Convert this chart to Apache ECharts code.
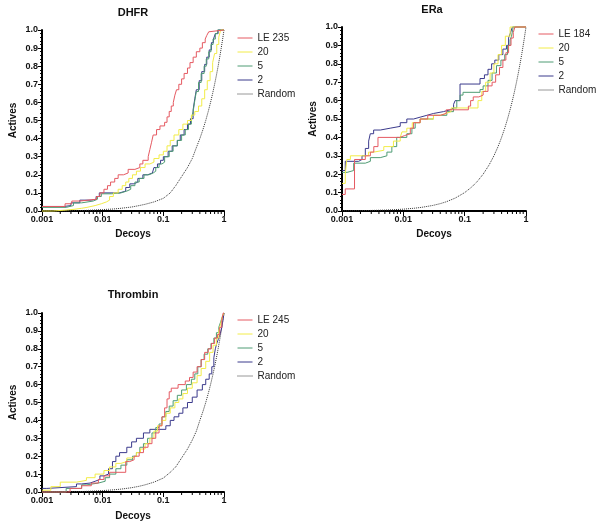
<!DOCTYPE html>
<html>
<head>
<meta charset="utf-8">
<script src="https://cdn.jsdelivr.net/npm/echarts@6/dist/echarts.min.js"></script>
<style>html,body{margin:0;padding:0;background:#fff}#c{width:600px;height:525px}</style>
</head>
<body>
<div id="c"></div>
<script>
// ---------- data ----------
const panelTitles = ['DHFR', 'ERa', 'Thrombin'];
const seriesNames = [['LE 235','20','5','2','Random'], ['LE 184','20','5','2','Random'], ['LE 245','20','5','2','Random']];
const xTickValues = [0.001, 0.01, 0.1, 1];
const xTickLabels = ['0.001', '0.01', '0.1', '1'];
const xMinorTicks = [0.002,0.003,0.004,0.005,0.006,0.007,0.008,0.009,0.02,0.03,0.04,0.05,0.06,0.07,0.08,0.09,0.2,0.3,0.4,0.5,0.6,0.7,0.8,0.9];

const dhfrLE = [[0.001,0.025],[0.0024,0.04],[0.0031,0.055],[0.0042,0.065],[0.0079,0.08],[0.009,0.1],[0.0105,0.12],[0.012,0.14],[0.0135,0.16],[0.0158,0.18],[0.018,0.2],[0.022,0.21],[0.0263,0.23],[0.034,0.24],[0.041,0.26],[0.046,0.28],[0.0563,0.3],[0.06,0.34],[0.064,0.38],[0.068,0.42],[0.0773,0.45],[0.088,0.47],[0.105,0.49],[0.115,0.52],[0.125,0.55],[0.135,0.58],[0.146,0.6],[0.155,0.64],[0.165,0.67],[0.18,0.7],[0.2,0.73],[0.22,0.76],[0.25,0.79],[0.275,0.82],[0.31,0.85],[0.35,0.88],[0.4,0.9],[0.44,0.93],[0.49,0.95],[0.52,0.97],[0.56,0.99],[0.59,1.0],[1,1.0]];
const dhfr20 = [[0.001,0.0],[0.0015,0.005],[0.0025,0.01],[0.0035,0.015],[0.0045,0.02],[0.0055,0.03],[0.0075,0.04],[0.0095,0.05],[0.0115,0.06],[0.013,0.08],[0.015,0.1],[0.018,0.12],[0.021,0.14],[0.024,0.16],[0.027,0.18],[0.031,0.2],[0.036,0.22],[0.042,0.24],[0.05,0.26],[0.06,0.27],[0.07,0.29],[0.085,0.31],[0.1,0.33],[0.115,0.36],[0.13,0.39],[0.15,0.42],[0.18,0.45],[0.21,0.48],[0.25,0.5],[0.29,0.53],[0.33,0.55],[0.38,0.58],[0.43,0.62],[0.48,0.67],[0.53,0.72],[0.59,0.77],[0.65,0.82],[0.7,0.87],[0.76,0.92],[0.82,0.96],[0.88,1.0],[1,1.0]];
const dhfr5 = [[0.001,0.02],[0.0025,0.03],[0.0033,0.045],[0.0045,0.055],[0.007,0.065],[0.0082,0.08],[0.0095,0.095],[0.014,0.1],[0.02,0.11],[0.025,0.12],[0.029,0.14],[0.034,0.16],[0.04,0.18],[0.048,0.2],[0.058,0.21],[0.068,0.22],[0.075,0.24],[0.085,0.26],[0.095,0.27],[0.105,0.3],[0.125,0.33],[0.145,0.36],[0.17,0.39],[0.2,0.42],[0.23,0.45],[0.26,0.48],[0.29,0.51],[0.31,0.55],[0.33,0.61],[0.35,0.66],[0.38,0.71],[0.42,0.76],[0.47,0.8],[0.51,0.84],[0.56,0.88],[0.61,0.92],[0.66,0.95],[0.72,0.98],[0.78,1.0],[1,1.0]];
const dhfr2 = [[0.001,0.025],[0.0023,0.03],[0.003,0.045],[0.0042,0.06],[0.0065,0.065],[0.0078,0.08],[0.0088,0.1],[0.019,0.11],[0.024,0.13],[0.028,0.15],[0.033,0.16],[0.038,0.18],[0.046,0.2],[0.055,0.21],[0.066,0.22],[0.07,0.24],[0.08,0.26],[0.09,0.28],[0.1,0.3],[0.12,0.33],[0.14,0.36],[0.17,0.39],[0.19,0.42],[0.22,0.45],[0.25,0.48],[0.28,0.51],[0.31,0.56],[0.33,0.62],[0.35,0.67],[0.39,0.72],[0.43,0.77],[0.48,0.81],[0.52,0.85],[0.57,0.89],[0.62,0.93],[0.67,0.95],[0.72,0.98],[0.8,1.0],[1,1.0]];
const dhfrRandom = [[0.001,0.0005],[0.002,0.001],[0.003,0.002],[0.005,0.003],[0.007,0.005],[0.01,0.008],[0.015,0.011],[0.02,0.015],[0.03,0.022],[0.04,0.03],[0.05,0.037],[0.07,0.05],[0.1,0.07],[0.13,0.1],[0.16,0.14],[0.2,0.19],[0.25,0.24],[0.3,0.29],[0.35,0.35],[0.4,0.4],[0.45,0.45],[0.5,0.5],[0.55,0.55],[0.6,0.6],[0.65,0.65],[0.7,0.7],[0.75,0.75],[0.8,0.8],[0.85,0.85],[0.9,0.9],[0.95,0.95],[1,1]];

const eraLE = [[0.001,0.09],[0.00113,0.12],[0.0016,0.28],[0.0024,0.3],[0.0029,0.32],[0.0033,0.35],[0.00386,0.4],[0.0088,0.41],[0.0105,0.42],[0.013,0.45],[0.0147,0.48],[0.0188,0.5],[0.025,0.52],[0.04,0.53],[0.05,0.55],[0.115,0.57],[0.125,0.6],[0.138,0.62],[0.17,0.63],[0.2,0.65],[0.24,0.68],[0.28,0.7],[0.32,0.74],[0.37,0.78],[0.42,0.82],[0.47,0.86],[0.52,0.9],[0.57,0.94],[0.62,0.97],[0.66,1.0],[1,1.0]];
const era20 = [[0.001,0.15],[0.00113,0.2],[0.0012,0.28],[0.00137,0.3],[0.0027,0.32],[0.0033,0.33],[0.0048,0.35],[0.0069,0.38],[0.0089,0.4],[0.0095,0.43],[0.0114,0.45],[0.014,0.48],[0.0188,0.5],[0.031,0.52],[0.04,0.53],[0.05,0.54],[0.06,0.56],[0.165,0.6],[0.19,0.65],[0.22,0.7],[0.26,0.75],[0.3,0.8],[0.35,0.85],[0.4,0.9],[0.46,0.95],[0.55,1.0],[1,1.0]];
const era5 = [[0.001,0.21],[0.00121,0.22],[0.00155,0.26],[0.0024,0.27],[0.0029,0.29],[0.0042,0.3],[0.0054,0.32],[0.0065,0.35],[0.0078,0.4],[0.0114,0.42],[0.0138,0.45],[0.0156,0.48],[0.0188,0.5],[0.031,0.52],[0.0512,0.54],[0.0657,0.56],[0.0744,0.6],[0.0843,0.63],[0.094,0.645],[0.178,0.66],[0.2,0.68],[0.24,0.71],[0.28,0.75],[0.33,0.79],[0.39,0.82],[0.45,0.85],[0.5,0.9],[0.55,0.93],[0.58,0.95],[0.62,1.0],[1,1.0]];
const era2 = [[0.001,0.22],[0.00113,0.27],[0.00187,0.28],[0.00212,0.3],[0.0024,0.34],[0.00272,0.38],[0.00289,0.42],[0.00328,0.44],[0.00421,0.45],[0.0061,0.46],[0.0089,0.48],[0.0114,0.5],[0.0147,0.51],[0.0188,0.52],[0.0242,0.53],[0.031,0.54],[0.045,0.55],[0.058,0.56],[0.066,0.58],[0.07,0.6],[0.084,0.69],[0.178,0.72],[0.21,0.74],[0.24,0.77],[0.275,0.8],[0.31,0.82],[0.36,0.85],[0.42,0.88],[0.48,0.9],[0.52,0.94],[0.56,0.97],[0.6,1.0],[1,1.0]];
const eraRandom = [[0.001,0.001],[0.002,0.002],[0.003,0.003],[0.005,0.005],[0.007,0.007],[0.01,0.01],[0.015,0.015],[0.02,0.02],[0.03,0.03],[0.04,0.04],[0.05,0.05],[0.07,0.07],[0.1,0.1],[0.13,0.13],[0.16,0.16],[0.2,0.2],[0.25,0.25],[0.3,0.3],[0.35,0.35],[0.4,0.4],[0.45,0.45],[0.5,0.5],[0.55,0.55],[0.6,0.6],[0.65,0.65],[0.7,0.7],[0.75,0.75],[0.8,0.8],[0.85,0.85],[0.9,0.9],[0.95,0.95],[1,1]];

const thrLE = [[0.001,0.0],[0.0029,0.02],[0.0045,0.035],[0.0065,0.05],[0.0085,0.07],[0.0105,0.09],[0.013,0.11],[0.024,0.17],[0.028,0.18],[0.033,0.2],[0.04,0.22],[0.047,0.25],[0.056,0.27],[0.065,0.3],[0.075,0.33],[0.085,0.37],[0.095,0.42],[0.105,0.47],[0.115,0.52],[0.125,0.56],[0.135,0.58],[0.175,0.6],[0.23,0.62],[0.27,0.64],[0.31,0.67],[0.36,0.7],[0.42,0.74],[0.48,0.78],[0.55,0.8],[0.62,0.83],[0.7,0.86],[0.78,0.88],[0.85,0.92],[0.92,0.96],[0.97,1.0],[1,1.0]];
const thr20 = [[0.001,0.01],[0.0014,0.03],[0.002,0.055],[0.0037,0.065],[0.0054,0.08],[0.0075,0.1],[0.0105,0.12],[0.013,0.14],[0.0165,0.16],[0.02,0.17],[0.025,0.19],[0.03,0.2],[0.036,0.22],[0.042,0.24],[0.05,0.27],[0.06,0.3],[0.07,0.34],[0.08,0.37],[0.095,0.4],[0.11,0.44],[0.13,0.47],[0.155,0.5],[0.18,0.52],[0.21,0.55],[0.25,0.58],[0.3,0.61],[0.36,0.65],[0.42,0.69],[0.5,0.73],[0.58,0.78],[0.66,0.82],[0.75,0.86],[0.82,0.9],[0.88,0.94],[0.94,0.98],[1,1.0]];
const thr5 = [[0.001,0.0],[0.0025,0.02],[0.0045,0.04],[0.0055,0.05],[0.0085,0.06],[0.011,0.08],[0.013,0.1],[0.0165,0.13],[0.02,0.15],[0.025,0.18],[0.031,0.2],[0.036,0.22],[0.041,0.25],[0.047,0.27],[0.055,0.3],[0.065,0.33],[0.075,0.36],[0.085,0.38],[0.095,0.42],[0.11,0.45],[0.125,0.48],[0.145,0.51],[0.17,0.54],[0.2,0.57],[0.24,0.6],[0.29,0.63],[0.33,0.66],[0.37,0.7],[0.42,0.74],[0.47,0.77],[0.54,0.8],[0.61,0.83],[0.68,0.86],[0.75,0.89],[0.82,0.92],[0.88,0.95],[0.94,0.98],[1,1.0]];
const thr2 = [[0.001,0.02],[0.0012,0.03],[0.0037,0.045],[0.0045,0.05],[0.0062,0.06],[0.0075,0.07],[0.009,0.09],[0.0105,0.1],[0.0125,0.13],[0.0145,0.17],[0.0165,0.2],[0.019,0.22],[0.025,0.25],[0.03,0.28],[0.036,0.3],[0.047,0.33],[0.06,0.35],[0.11,0.37],[0.13,0.4],[0.15,0.42],[0.18,0.44],[0.21,0.47],[0.25,0.5],[0.3,0.53],[0.36,0.57],[0.44,0.6],[0.5,0.63],[0.57,0.66],[0.63,0.7],[0.68,0.75],[0.72,0.8],[0.76,0.83],[0.8,0.85],[0.86,0.88],[0.92,0.92],[0.96,0.96],[1,1.0]];
const thrRandom = [[0.001,0.0005],[0.002,0.001],[0.003,0.002],[0.005,0.003],[0.007,0.005],[0.01,0.008],[0.015,0.012],[0.02,0.016],[0.03,0.024],[0.04,0.032],[0.05,0.04],[0.07,0.055],[0.1,0.078],[0.13,0.11],[0.16,0.14],[0.2,0.19],[0.25,0.24],[0.3,0.29],[0.35,0.34],[0.4,0.4],[0.45,0.45],[0.5,0.5],[0.55,0.55],[0.6,0.6],[0.65,0.65],[0.7,0.7],[0.75,0.75],[0.8,0.8],[0.85,0.85],[0.9,0.9],[0.95,0.95],[1,1]];

const panelData = [
  [dhfrLE, dhfr20, dhfr5, dhfr2, dhfrRandom],
  [eraLE, era20, era5, era2, eraRandom],
  [thrLE, thr20, thr5, thr2, thrRandom]
];

// ---------- layout / style ----------
const FONT = 'Liberation Sans, Arial, sans-serif';
const colors = ['#e55a62', '#f2ec48', '#4f9c74', '#3b3a8c', '#333333'];
const grids = [
  {left: 42, top: 30, width: 182, height: 181},
  {left: 342, top: 27, width: 184, height: 184},
  {left: 42, top: 313, width: 182, height: 179}
];
const titlePos = [[133, 13], [432, 10], [133, 295]];
const legendPos = [[237, 33], [538, 29], [237, 315]];

const option = {
  animation: false,
  backgroundColor: '#fff',
  grid: grids.map(g => Object.assign({containLabel: false}, g)),
  graphic: panelTitles.map((t, i) => ({
    type: 'text', x: titlePos[i][0], y: titlePos[i][1],
    style: {text: t, font: 'bold 11px ' + FONT, fill: '#111', textAlign: 'center', textVerticalAlign: 'middle'}
  })),
  legend: seriesNames.map((names, i) => ({
    left: legendPos[i][0], top: legendPos[i][1], orient: 'vertical', padding: 0,
    itemWidth: 15, itemHeight: 10, itemGap: 4,
    itemStyle: {opacity: 0},
    lineStyle: {width: 1},
    textStyle: {fontSize: 10, fontFamily: FONT, color: '#222', lineHeight: 10, padding: [0, 0, 0, 0]},
    selectedMode: false,
    data: names
  })),
  xAxis: grids.map((g, i) => ({
    gridIndex: i, type: 'log', logBase: 10, min: 0.001, max: 1,
    name: 'Decoys', nameLocation: 'middle', nameGap: i === 2 ? 19 : 18,
    nameTextStyle: {fontSize: 10, fontWeight: 'bold', fontFamily: FONT, color: '#111'},
    axisLine: {lineStyle: {color: '#000', width: 2}},
    axisTick: {show: true, length: 5, lineStyle: {color: '#000', width: 1}},
    minorTick: {show: false},
    splitLine: {show: false},
    axisLabel: {
      fontSize: 9, fontWeight: 'bold', fontFamily: FONT, color: '#111', margin: 4,
      formatter: v => {
        let best = 0;
        xTickValues.forEach((t, k) => { if (Math.abs(Math.log10(t) - Math.log10(v)) < Math.abs(Math.log10(xTickValues[best]) - Math.log10(v))) best = k; });
        return xTickLabels[best];
      }
    }
  })),
  yAxis: grids.map((g, i) => ({
    gridIndex: i, type: 'value', min: 0, max: 1, interval: 0.1,
    name: 'Actives', nameLocation: 'middle', nameGap: 24, nameRotate: 90,
    nameTextStyle: {fontSize: 10, fontWeight: 'bold', fontFamily: FONT, color: '#111'},
    axisLine: {show: true, lineStyle: {color: '#000', width: 2}},
    axisTick: {show: true, length: 4, lineStyle: {color: '#000', width: 1}},
    minorTick: {show: true, splitNumber: 5, length: 2, lineStyle: {color: '#000', width: 1}},
    splitLine: {show: false},
    axisLabel: {fontSize: 9, fontWeight: 'bold', fontFamily: FONT, color: '#111', margin: 4, formatter: v => v.toFixed(1)}
  })),
  series: []
};

panelData.forEach((arr, p) => {
  arr.forEach((data, s) => {
    const isRandom = s === 4;
    option.series.push({
      name: seriesNames[p][s], type: 'line', xAxisIndex: p, yAxisIndex: p,
      data: data, step: isRandom ? false : 'end', symbol: 'none', showSymbol: false,
      color: colors[s],
      lineStyle: {color: colors[s], width: 1, type: isRandom ? 'dotted' : 'solid'},
      z: isRandom ? 2 : 3 + (4 - s),
      clip: false
    });
  });
  option.series.push({
    name: 'minor-ticks-' + p, type: 'custom', xAxisIndex: p, yAxisIndex: p,
    clip: false, silent: true,
    data: xMinorTicks.map(v => [v, 0]),
    renderItem: (params, api) => {
      const pt = api.coord([api.value(0), 0]);
      return {type: 'line', shape: {x1: pt[0], y1: pt[1], x2: pt[0], y2: pt[1] + 3}, style: {stroke: '#000', lineWidth: 1}};
    }
  });
});

const chart = echarts.init(document.getElementById('c'), null, {renderer: 'canvas'});
chart.setOption(option);
</script>
</body>
</html>
